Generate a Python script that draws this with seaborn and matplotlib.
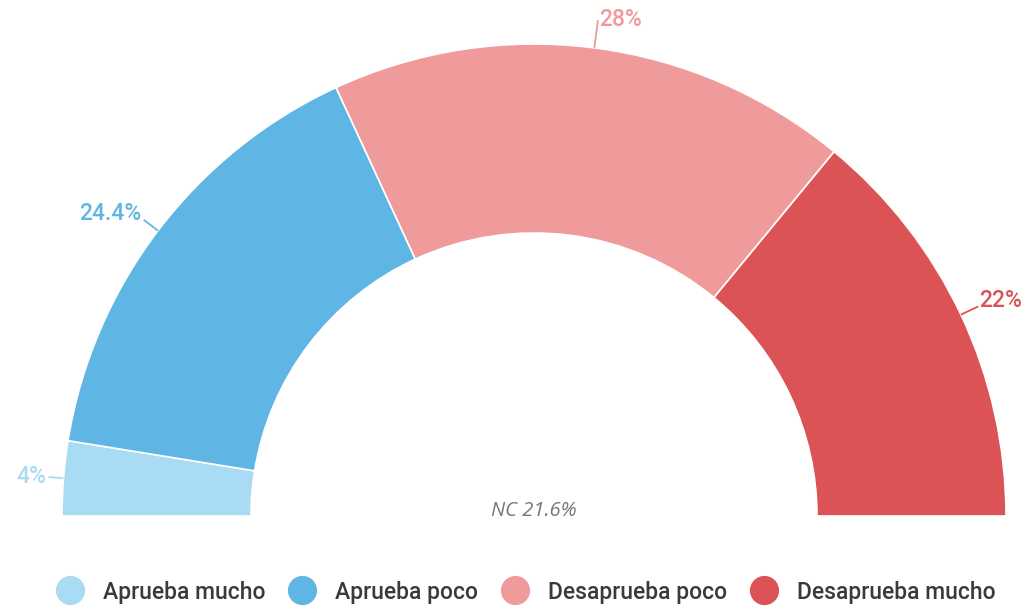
import numpy as np
import matplotlib
matplotlib.use("Agg")
import matplotlib.pyplot as plt
from matplotlib.lines import Line2D
import seaborn as sns

# ── Data ──────────────────────────────────────────────────────────────
categories = ["Aprueba mucho", "Aprueba poco", "Desaprueba poco", "Desaprueba mucho"]
values = [4.0, 24.4, 28.0, 22.0]
labels = ["4%", "24.4%", "28%", "22%"]
nc_value = 21.6
colors = ["#a9dcf4", "#5fb6e4", "#ef9a9b", "#db5354"]

sns.set_theme(style="white")
plt.rcParams["font.family"] = ["Roboto", "DejaVu Sans"]

W, H = 1022, 606
fig = plt.figure(figsize=(W / 100, H / 100), dpi=100)
ax = fig.add_axes([0, 0, 1, 1])

cx, cy = 534, 90          # centre of the half donut (pixels, y up)
R, r_in = 472, 283

total = sum(values)
wedges, _ = ax.pie(
    values + [total], colors=colors + ["none"],
    startangle=180, counterclock=False,
    center=(cx, cy), radius=R, frame=True,
    wedgeprops=dict(width=R - r_in, edgecolor="white", linewidth=1.2),
)
wedges[-1].set_edgecolor("none")

# ── Labels with leader lines ──────────────────────────────────────────
cum = 0.0
lead = [15, 18, 28, 19]
for v, lab, col, d in zip(values, labels, colors, lead):
    mid = 180 - (cum + v / 2) / total * 180
    cum += v
    a = np.deg2rad(mid)
    x0, y0 = cx + R * np.cos(a), cy + R * np.sin(a)
    x1, y1 = cx + (R + d) * np.cos(a), cy + (R + d) * np.sin(a)
    ax.plot([x0, x1], [y0, y1], color=col, lw=1.3, solid_capstyle="butt")
    ha = "left" if np.cos(a) > 0 else "right"
    dy = 6 if abs(np.cos(a)) > 0.5 and np.sin(a) > 0.3 else 1
    ax.text(x1 + (1 if ha == "left" else -2), y1 + dy, lab, color=col,
            ha=ha, va="center", fontsize=16.5, fontweight="medium")

ax.text(cx, 606 - 511, f"NC {nc_value}%", ha="center", va="center",
        fontsize=14.5, color="#777777", style="italic", family=["Open Sans", "DejaVu Sans"])

ax.set_xlim(0, W)
ax.set_ylim(0, H)
ax.set_aspect("equal")
ax.axis("off")

# ── Legend ────────────────────────────────────────────────────────────
handles = [Line2D([0], [0], marker="o", linestyle="none", markersize=20,
                  markerfacecolor=c, markeredgecolor=c) for c in colors]
leg = fig.legend(handles, categories, loc="center", ncol=4, frameon=False,
                 bbox_to_anchor=(526 / W, 14 / H),
                 prop={"size": 16.5, "weight": "medium"},
                 handletextpad=0.85, columnspacing=1.0, handlelength=1.2)
for t in leg.get_texts():
    t.set_color("#3a3a3a")

fig.savefig("out.png", dpi=100, facecolor="white")
